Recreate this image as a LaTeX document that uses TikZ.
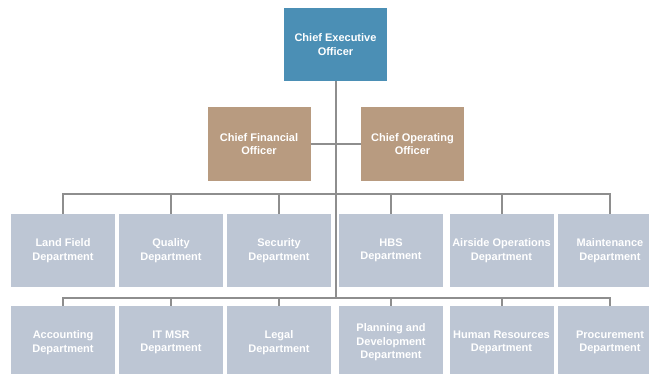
\documentclass[tikz,border=0pt]{standalone}
\usepackage{fontspec}
\setmainfont{Liberation Sans}
\definecolor{ceoblue}{HTML}{4B8FB5}
\definecolor{offtan}{HTML}{B89B80}
\definecolor{deptgray}{HTML}{BDC6D4}
\definecolor{linegray}{HTML}{8E8E8E}
\begin{document}
\begin{tikzpicture}[x=1pt,y=-1pt,
  box/.style={minimum width=104pt,minimum height=73pt,inner sep=0pt,align=center,
    text=white,font=\fontsize{11}{13.5}\selectfont\bfseries},
  ceobox/.style={box,fill=ceoblue,minimum width=103pt},
  offbox/.style={box,fill=offtan,minimum width=103pt,minimum height=74pt},
  deptbox/.style={box,fill=deptgray},
  conn/.style={draw=linegray,line width=2pt}]
\useasboundingbox (0,0) rectangle (649,373);
\clip (0,0) rectangle (649,373);
\coordinate (bus1) at (335.5,194);
\coordinate (bus2) at (335.5,298);
\node[ceobox] (ceo) at (335.5,44.5) {Chief Executive\\Officer};
\node[offbox] (cfo) at (259,144) {Chief Financial\\Officer};
\node[offbox] (coo) at (412.5,144) {Chief Operating\\Officer};
\node[deptbox] (d1) at (63,250.5) {Land Field\\Department};
\node[deptbox] (d2) at (171,250.5) {Quality\\Department};
\node[deptbox] (d3) at (279,250.5) {Security\\Department};
\node[deptbox] (d4) at (391,250.5) {HBS\\Department};
\node[deptbox] (d5) at (501.5,250.5) {Airside Operations\\Department};
\node[deptbox] (d6) at (610,250.5) {Maintenance\\Department};
\node[deptbox] (e1) at (63,342.5) {Accounting\\Department};
\node[deptbox] (e2) at (171,342.5) {IT MSR\\Department};
\node[deptbox] (e3) at (279,342.5) {Legal\\Department};
\node[deptbox] (e4) at (391,342.5) {Planning and\\Development\\Department};
\node[deptbox] (e5) at (501.5,342.5) {Human Resources\\Department};
\node[deptbox] (e6) at (610,342.5) {Procurement\\Department};
\draw[conn] (ceo.south) -- (bus2);
\draw[conn] (cfo.east) -- (coo.west);
\draw[conn] (d1.north) -- (d1.north |- bus1) -- (d6.north |- bus1) -- (d6.north);
\foreach \n in {d2,d3,d4,d5} \draw[conn] (\n.north) -- (\n.north |- bus1);
\draw[conn] (e1.north) -- (e1.north |- bus2) -- (e6.north |- bus2) -- (e6.north);
\foreach \n in {e2,e3,e4,e5} \draw[conn] (\n.north) -- (\n.north |- bus2);
\end{tikzpicture}
\end{document}
